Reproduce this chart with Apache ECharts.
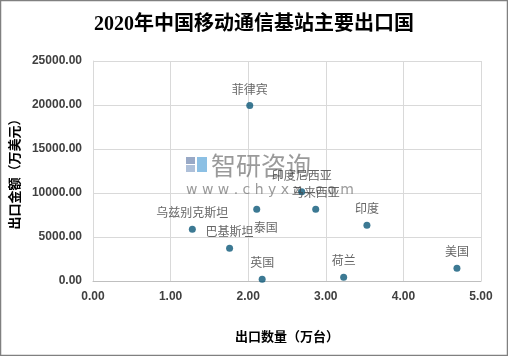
<!DOCTYPE html>
<html>
<head>
<meta charset="utf-8">
<script src="https://cdn.jsdelivr.net/npm/echarts@6/dist/echarts.min.js"></script>
<style>html,body{margin:0;padding:0;background:#fff}#c{width:508px;height:356px}</style>
</head>
<body>
<div id="c"></div>
<script>
const countries = ['菲律宾','印度尼西亚','马来西亚','泰国','乌兹别克斯坦','巴基斯坦','印度','英国','荷兰','美国'];
const quantity = [2.02, 2.69, 2.87, 2.11, 1.28, 1.76, 3.53, 2.18, 3.23, 4.69];
const amount = [19950, 10150, 8150, 8150, 5880, 3720, 6330, 200, 420, 1440];
const xTicks = { min: 0, max: 5, interval: 1 };
const yTicks = { min: 0, max: 25000, interval: 5000 };

const chart = echarts.init(document.getElementById('c'), null, {renderer: 'canvas'});
const labelFont = {fontSize: 12, color: '#404040', fontFamily: 'Noto Sans CJK SC'};
const data = countries.map((n, i) => {
  const d = {name: n, value: [quantity[i], amount[i]]};
  if (n === '泰国') d.label = {position: 'bottom', offset: [9, 2]};
  return d;
});
chart.setOption({
  animation: false,
  graphic: [
    {type: 'rect', shape: {x: 0.5, y: 0.5, width: 507, height: 355}, style: {fill: 'none', stroke: '#808080', lineWidth: 1.5}, z: 100},
    {type: 'rect', shape: {x: 186, y: 157, width: 9, height: 7}, style: {fill: '#7f93b8', opacity: 0.8}, z: 1},
    {type: 'rect', shape: {x: 186, y: 165, width: 9, height: 7}, style: {fill: '#9ab0d0', opacity: 0.8}, z: 1},
    {type: 'rect', shape: {x: 197, y: 157, width: 10, height: 15}, style: {fill: '#6fb0dd', opacity: 0.8}, z: 1},
    {type: 'text', left: 211, top: 153, style: {text: '智研咨询', fontSize: 25, fill: 'rgba(120,120,120,0.75)', fontFamily: 'Noto Sans CJK SC'}, z: 1},
    {type: 'text', left: 186, top: 183, style: {text: 'w w w . c h y x x . c o m', fontSize: 14, fill: 'rgba(120,120,120,0.75)', fontFamily: 'DejaVu Sans'}, z: 1}
  ],
  title: {
    text: '2020年中国移动通信基站主要出口国',
    left: 'center', top: 10,
    textStyle: {fontSize: 20, fontWeight: 'bold', color: '#000', fontFamily: 'Liberation Serif, Noto Sans CJK SC'}
  },
  grid: {left: 93, right: 27, top: 61, bottom: 75},
  xAxis: {
    type: 'value', min: xTicks.min, max: xTicks.max, interval: xTicks.interval,
    name: '出口数量（万台）', nameLocation: 'middle', nameGap: 49,
    nameTextStyle: {fontSize: 13, fontWeight: 'bold', color: '#000', fontFamily: 'Noto Sans CJK SC'},
    axisLine: {show: true, lineStyle: {color: '#bfbfbf'}},
    axisTick: {show: false},
    splitLine: {show: true, lineStyle: {color: '#d9d9d9'}},
    axisLabel: {formatter: v => v.toFixed(2), fontSize: 12, fontWeight: 'bold', color: '#404040', margin: 10, fontFamily: 'Liberation Sans'}
  },
  yAxis: {
    type: 'value', min: yTicks.min, max: yTicks.max, interval: yTicks.interval,
    name: '出口金额（万美元）', nameLocation: 'middle', nameGap: 65,
    nameTextStyle: {fontSize: 13, fontWeight: 'bold', color: '#000', fontFamily: 'Noto Sans CJK SC'},
    axisLine: {show: true, lineStyle: {color: '#d9d9d9'}},
    axisTick: {show: false},
    splitLine: {show: true, lineStyle: {color: '#d9d9d9'}},
    axisLabel: {formatter: v => v.toFixed(2), fontSize: 12, fontWeight: 'bold', color: '#404040', margin: 11, fontFamily: 'Liberation Sans'}
  },
  series: [{
    type: 'scatter', symbolSize: 7,
    itemStyle: {color: '#0b5878'},
    label: Object.assign({show: true, position: 'top', distance: 7, formatter: p => p.name}, labelFont),
    data: data, z: 5
  }]
});
</script>
</body>
</html>
